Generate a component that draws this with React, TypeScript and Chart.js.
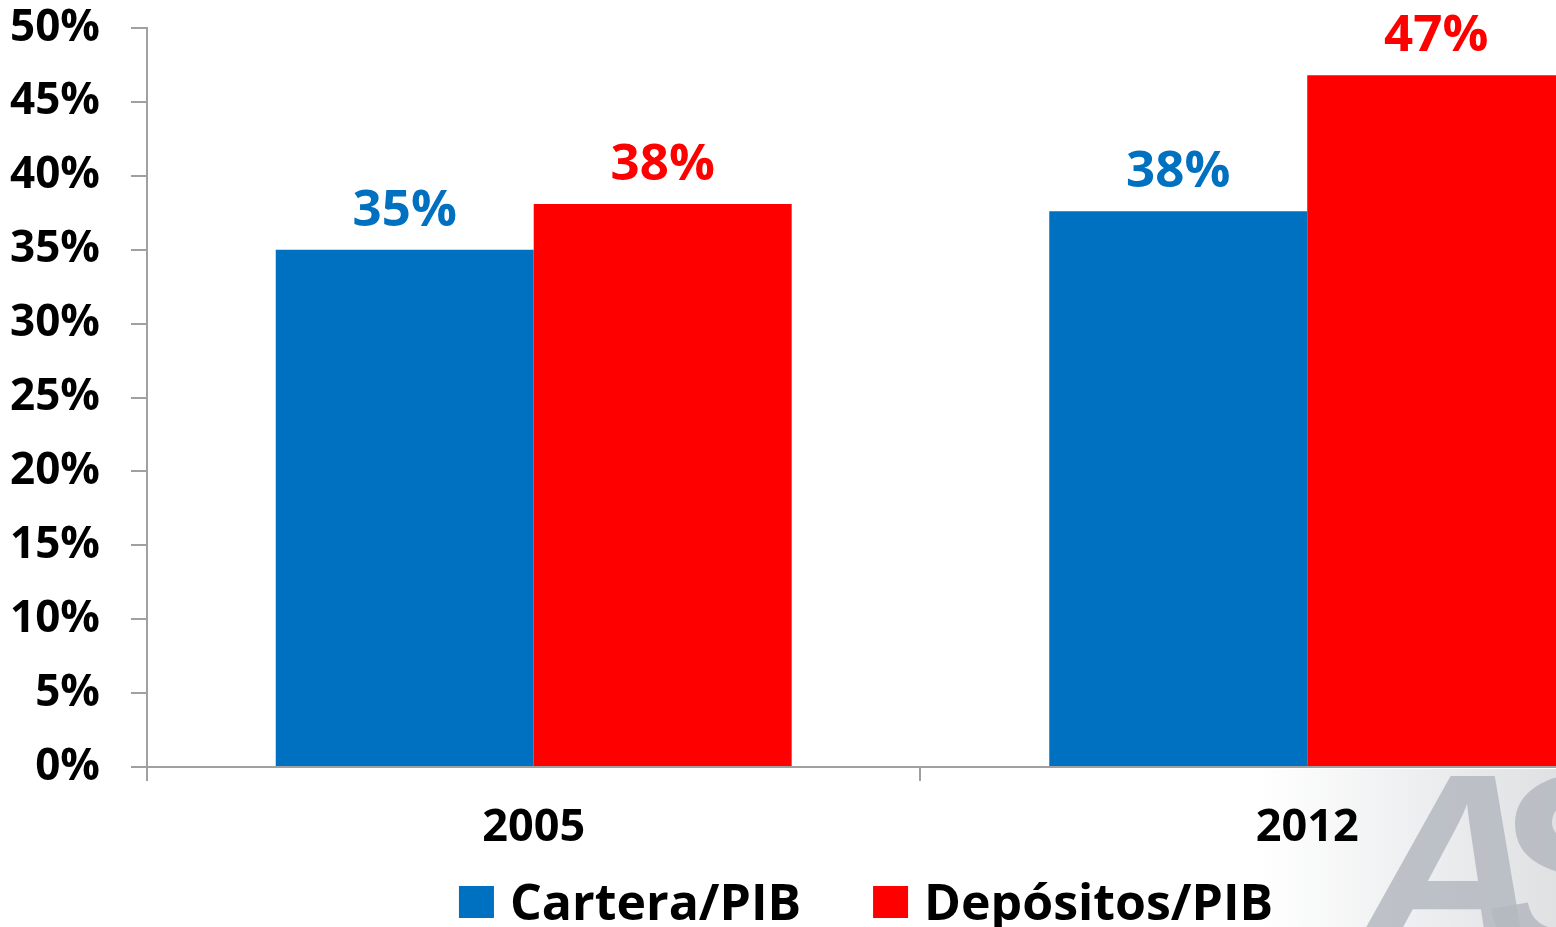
import React, { useEffect, useRef } from 'react';
import { Chart, registerables } from 'chart.js';

Chart.register(...registerables);

const categories = ['2005', '2012'];
const seriesNames = ['Cartera/PIB', 'Depósitos/PIB'];
const carteraPIB = [35.0, 37.6];
const depositosPIB = [38.1, 46.8];
const yMin = 0;
const yMax = 50;
const yStep = 5;

const FONT = '"Open Sans", "DejaVu Sans", sans-serif';
const BLUE = '#0070C0';
const RED = '#FF0000';
const AXIS = '#A0A0A0';

const CANVAS_W = 1732;
const CANVAS_H = 927;

const watermark = {
  id: 'watermark',
  beforeDraw(chart: any) {
    const { ctx } = chart;
    const area = chart.chartArea;
    ctx.save();
    const top = area.bottom + 2;
    const g = ctx.createLinearGradient(1260, 0, 1560, 0);
    g.addColorStop(0, 'rgba(255,255,255,1)');
    g.addColorStop(1, 'rgba(222,224,226,1)');
    ctx.fillStyle = g;
    ctx.fillRect(1260, top, CANVAS_W - 1260, CANVAS_H - top);
    ctx.fillStyle = 'rgba(180,185,191,0.85)';
    ctx.font = 'italic bold 260px "Liberation Sans Narrow", "Liberation Sans", sans-serif';
    ctx.textBaseline = 'alphabetic';
    ctx.fillText('A', 1356, 955);
    ctx.fillText('S', 1488, 955);
    ctx.restore();
  },
};

const dataLabels = {
  id: 'dataLabels',
  afterDatasetsDraw(chart: any) {
    const { ctx } = chart;
    ctx.save();
    ctx.font = `bold 51px ${FONT}`;
    ctx.textAlign = 'center';
    ctx.textBaseline = 'alphabetic';
    chart.data.datasets.forEach((ds: any, i: number) => {
      const meta = chart.getDatasetMeta(i);
      meta.data.forEach((bar: any, j: number) => {
        ctx.fillStyle = ds.backgroundColor;
        ctx.fillText(Math.round(ds.data[j]) + '%', bar.x, bar.y - 24);
      });
    });
    ctx.restore();
  },
};

const customLegend = {
  id: 'customLegend',
  afterDraw(chart: any) {
    const { ctx } = chart;
    ctx.save();
    ctx.font = `bold 50px ${FONT}`;
    ctx.textBaseline = 'alphabetic';
    ctx.textAlign = 'left';
    const boxW = 35;
    const boxH = 32;
    const gapText = 16;
    const gapItem = 72;
    const items = chart.data.datasets.map((ds: any) => ({
      label: ds.label,
      color: ds.backgroundColor,
      w: ctx.measureText(ds.label).width,
    }));
    const total =
      items.reduce((s: number, it: any) => s + boxW + gapText + it.w, 0) +
      gapItem * (items.length - 1);
    let x = chart.width / 2 - total / 2;
    const baseline = chart.height - 7;
    const boxTop = chart.height - 41;
    items.forEach((it: any) => {
      ctx.fillStyle = it.color;
      ctx.fillRect(x, boxTop, boxW, boxH);
      x += boxW + gapText;
      ctx.fillStyle = '#000000';
      ctx.fillText(it.label, x, baseline);
      x += it.w + gapItem;
    });
    ctx.restore();
  },
};

export default function App() {
  const canvasRef = useRef<HTMLCanvasElement | null>(null);

  useEffect(() => {
    if (!canvasRef.current) return;
    const chart = new Chart(canvasRef.current, {
      type: 'bar',
      data: {
        labels: categories,
        datasets: [
          {
            label: seriesNames[0],
            data: carteraPIB,
            backgroundColor: BLUE,
            borderWidth: 0,
            barPercentage: 1,
            categoryPercentage: 0.667,
          },
          {
            label: seriesNames[1],
            data: depositosPIB,
            backgroundColor: RED,
            borderWidth: 0,
            barPercentage: 1,
            categoryPercentage: 0.667,
          },
        ],
      },
      options: {
        responsive: false,
        animation: false,
        layout: {
          padding: { top: 28, left: -21, right: 38, bottom: 52 },
        },
        plugins: {
          legend: { display: false },
          tooltip: { enabled: false },
          title: { display: false },
        },
        scales: {
          x: {
            grid: {
              display: true,
              drawOnChartArea: false,
              drawTicks: true,
              tickLength: 14,
              color: AXIS,
              lineWidth: 2,
              offset: true,
            },
            border: { display: true, color: AXIS, width: 2 },
            ticks: {
              color: '#000000',
              font: { family: FONT, size: 45, weight: 'bold' },
              padding: 20,
            },
          },
          y: {
            min: yMin,
            max: yMax,
            afterFit: (scale: any) => {
              scale.paddingTop = 0;
              scale.paddingBottom = 0;
            },
            grid: {
              display: true,
              drawOnChartArea: false,
              drawTicks: true,
              tickLength: 16,
              color: AXIS,
              lineWidth: 2,
            },
            border: { display: true, color: AXIS, width: 2 },
            ticks: {
              stepSize: yStep,
              color: '#000000',
              font: { family: FONT, size: 44, weight: 'bold' },
              padding: 31,
              callback: (v: any) => v + '%',
            },
          },
        },
      },
      plugins: [watermark, dataLabels, customLegend],
    });
    return () => chart.destroy();
  }, []);

  return (
    <div
      style={{
        position: 'fixed',
        left: 0,
        top: 0,
        width: 1556,
        height: 927,
        overflow: 'hidden',
        background: '#ffffff',
      }}
    >
      <canvas
        ref={canvasRef}
        width={CANVAS_W}
        height={CANVAS_H}
        style={{ display: 'block', width: CANVAS_W, height: CANVAS_H }}
      />
    </div>
  );
}
